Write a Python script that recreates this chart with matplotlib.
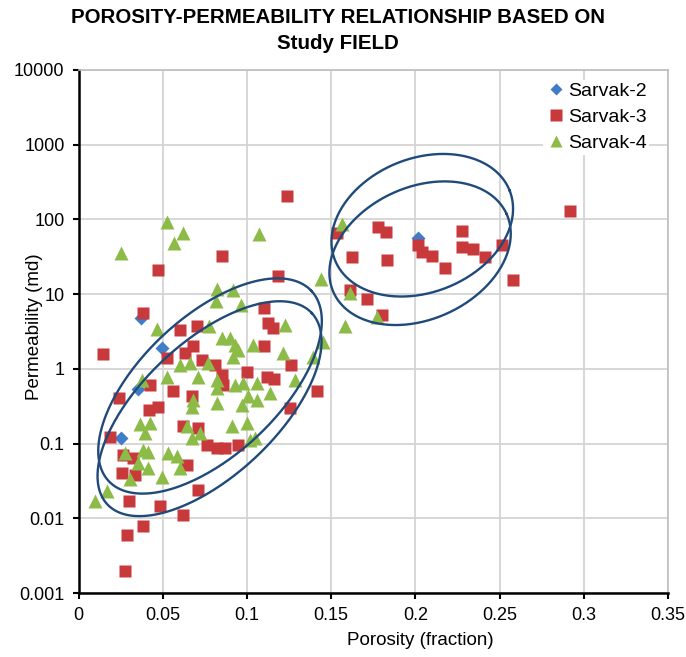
import numpy as np
import matplotlib
matplotlib.use('Agg')
from matplotlib import pyplot as plt

plt.rcParams['font.family'] = ['Liberation Sans', 'DejaVu Sans']

# Sarvak-2
s2_por = [0.0369, 0.0494, 0.0355, 0.0251, 0.2018]
s2_perm = [4.8, 1.9, 0.53, 0.118, 56]

# Sarvak-3
s3_por = [0.1236, 0.0850, 0.0470, 0.1186, 0.0381, 0.1103, 0.1127, 0.1157, 0.0603, 0.0702,
          0.1103, 0.0144, 0.0682, 0.0632, 0.0524, 0.0732, 0.0811, 0.0850, 0.0860, 0.0999,
          0.1118, 0.1161, 0.1260, 0.1414, 0.1256, 0.0425, 0.0242, 0.0563, 0.0672, 0.0420,
          0.0474, 0.0622, 0.0711, 0.0761, 0.0821, 0.0870, 0.0949, 0.0187, 0.0266, 0.0325,
          0.0257, 0.0336, 0.0643, 0.0711, 0.0302, 0.0484, 0.0619, 0.0385, 0.0286, 0.0276,
          0.2919, 0.1780, 0.1826, 0.1533, 0.1622, 0.1834, 0.2018, 0.2038, 0.2097, 0.2176,
          0.2276, 0.2276, 0.2341, 0.2414, 0.2513, 0.2582, 0.1612, 0.1711, 0.1800]
s3_perm = [207, 32, 21, 17.6, 5.6, 6.5, 4.1, 3.5, 3.3, 3.8,
           2.0, 1.6, 2.0, 1.62, 1.39, 1.32, 1.13, 0.83, 0.61, 0.92,
           0.77, 0.73, 1.13, 0.50, 0.30, 0.61, 0.41, 0.51, 0.43, 0.28,
           0.31, 0.17, 0.16, 0.096, 0.087, 0.087, 0.096, 0.124, 0.071, 0.064,
           0.040, 0.038, 0.052, 0.0236, 0.0172, 0.0144, 0.0110, 0.0079, 0.0060, 0.0020,
           128, 80, 67, 65, 31.8, 29, 45.7, 37, 32.6, 22.3,
           71, 42.5, 40, 31, 45.7, 15.5, 11.4, 8.6, 5.3]

# Sarvak-4
s4_por = [0.0524, 0.0622, 0.0567, 0.0251, 0.1074, 0.1438, 0.0821, 0.0916, 0.0817, 0.0963,
          0.1226, 0.1583, 0.0464, 0.0777, 0.0850, 0.0900, 0.0929, 0.0949, 0.1038, 0.1216,
          0.1454, 0.1612, 0.1774, 0.1563, 0.0919, 0.1394, 0.0771, 0.0662, 0.0603, 0.0524,
          0.0375, 0.0711, 0.0821, 0.0821, 0.0929, 0.0979, 0.1058, 0.1137, 0.1286, 0.0682,
          0.0672, 0.0821, 0.0969, 0.1008, 0.1058, 0.0365, 0.0425, 0.0395, 0.0643, 0.0672,
          0.0722, 0.0910, 0.0999, 0.1018, 0.1048, 0.0385, 0.0414, 0.0276, 0.0533, 0.0583,
          0.0355, 0.0414, 0.0494, 0.0603, 0.0306, 0.0167, 0.0098]
s4_perm = [91, 65, 49, 36, 64, 15.9, 11.7, 11.4, 8.2, 7.2,
           3.9, 3.7, 3.4, 3.7, 2.57, 2.57, 2.1, 1.8, 2.1, 1.62,
           2.3, 10.3, 5.0, 87, 1.46, 1.46, 1.19, 1.19, 1.13, 0.79,
           0.71, 0.79, 0.71, 0.55, 0.61, 0.64, 0.64, 0.47, 0.71, 0.38,
           0.31, 0.35, 0.33, 0.43, 0.38, 0.18, 0.19, 0.138, 0.17, 0.118,
           0.138, 0.17, 0.19, 0.112, 0.118, 0.082, 0.078, 0.074, 0.074, 0.068,
           0.055, 0.047, 0.036, 0.047, 0.034, 0.023, 0.0168]

# hand drawn ellipses: centre (porosity, perm), semi axes in pixels, angle in deg
ell_por = [0.0781, 0.0778, 0.2041, 0.2028]
ell_perm = [0.59, 0.293, 83.6, 35.3]
ell_a = [139, 140, 94, 95]
ell_b = [69, 67, 67, 66]
ell_ang = [43.2, 43.1, 21.7, 24.5]

x_ticks = [0, 0.05, 0.1, 0.15, 0.2, 0.25, 0.3, 0.35]
x_labels = ['0', '0.05', '0.1', '0.15', '0.2', '0.25', '0.3', '0.35']
y_ticks = [0.001, 0.01, 0.1, 1, 10, 100, 1000, 10000]
y_labels = ['0.001', '0.01', '0.1', '1', '10', '100', '1000', '10000']

W, H = 686, 657
fig = plt.figure(figsize=(W / 100, H / 100), dpi=100)
ax = fig.add_axes([78.5 / W, 1 - 593 / H, (668 - 78.5) / W, (593 - 70) / H])

ax.set_xlim(0, 0.35)
ax.set_yscale('log')
ax.set_ylim(0.001, 10000)

ax.plot(s2_por, s2_perm, 'D', color='#3F7DC8', ms=7, mec='none', label='Sarvak-2', zorder=3)
ax.plot(s3_por, s3_perm, 's', color='#C8393C', ms=9.3, mec='none', label='Sarvak-3', zorder=3)
ax.plot(s4_por, s4_perm, '^', color='#8DBB47', ms=9.5, mec='none', label='Sarvak-4', zorder=3)

# pixels per data unit, to keep ellipses round-ish on screen
px_x = (668 - 78.5) / 0.35
px_dec = (593 - 70) / 7.0
t = np.linspace(0, 2 * np.pi, 300)
for i in range(len(ell_por)):
    uc = ell_por[i] * px_x
    vc = np.log10(ell_perm[i]) * px_dec
    th = np.radians(ell_ang[i])
    u = uc + ell_a[i] * np.cos(t) * np.cos(th) - ell_b[i] * np.sin(t) * np.sin(th)
    v = vc + ell_a[i] * np.cos(t) * np.sin(th) + ell_b[i] * np.sin(t) * np.cos(th)
    ax.plot(u / px_x, 10 ** (v / px_dec), color='#1F4A7A', lw=1.7, zorder=4)

ax.set_xticks(x_ticks)
ax.set_xticklabels(x_labels)
ax.set_yticks(y_ticks)
ax.set_yticklabels(y_labels)
ax.minorticks_off()
ax.tick_params(labelsize=13, length=4, width=1.5, color='black', pad=6)

ax.grid(True, color='#D4D4D4', lw=1.3)
ax.set_axisbelow(True)
for side in ['top', 'right']:
    ax.spines[side].set_color('#BDBDBD')
    ax.spines[side].set_linewidth(1.2)
for side in ['left', 'bottom']:
    ax.spines[side].set_color('black')
    ax.spines[side].set_linewidth(1.8)

ax.set_xlabel('Porosity (fraction)', fontsize=13.5)
ax.xaxis.set_label_coords(0.58, -0.075)
ax.set_ylabel('Permeability (md)', fontsize=13.5)
ax.yaxis.set_label_coords(-0.06, 0.51)

leg = ax.legend(loc='upper right', bbox_to_anchor=(0.985, 1.0), fontsize=14,
                frameon=True, framealpha=1, edgecolor='none', fancybox=False,
                handletextpad=0.1, labelspacing=0.42, handlelength=1.0,
                borderpad=0.15, markerscale=0.9)

fig.text(0.493, 1 - 8 / H, 'POROSITY-PERMEABILITY RELATIONSHIP BASED ON\nStudy FIELD',
         ha='center', va='top', fontsize=14.8, fontweight='bold', linespacing=1.45)

fig.savefig('out.png', dpi=100)
